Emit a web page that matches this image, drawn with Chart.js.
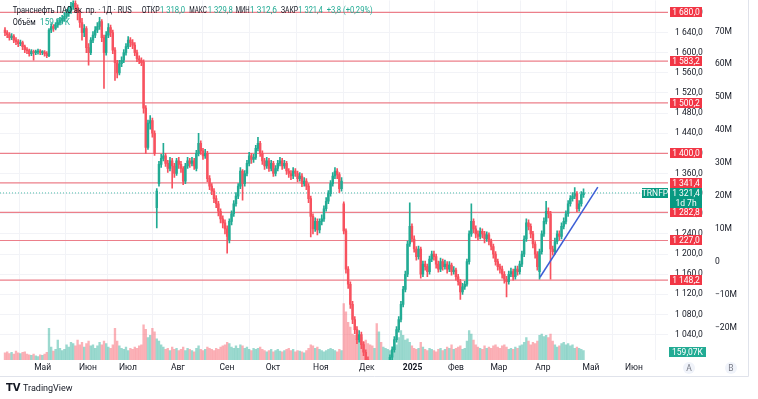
<!DOCTYPE html>
<html>
<head>
<meta charset="utf-8">
<script src="https://cdn.jsdelivr.net/npm/chart.js@4.4.1/dist/chart.umd.min.js"></script>
<style>
  html, body { margin: 0; padding: 0; background: #fff; }
  canvas { display: block; }
</style>
</head>
<body>
<canvas id="chart" width="758" height="399"></canvas>
<script>
// Daily candles, Apr 2024 - Apr 2025
const opens = [
  1645,1640,1636,1630,1633,1625,1622,1618,1620,1612,1606,1604,1598,1602,1600,1601,1603,1600,1601,1598,
  1594,1645,1652,1648,1655,1660,1664,1668,1672,1678,1684,1692,1698,1690,1680,1660,1640,1648,1610,1600,
  1625,1635,1645,1652,1662,1630,1600,1635,1650,1640,1605,1580,1560,1578,1585,1600,1612,1625,1620,1615,
  1600,1588,1585,1582,1490,1412,1460,1465,1440,1292,1340,1378,1390,1395,1380,1370,1385,1375,1360,1385,
  1378,1370,1345,1375,1385,1380,1385,1370,1400,1420,1405,1395,1400,1350,1335,1325,1310,1300,1285,1270,
  1262,1250,1228,1265,1280,1300,1315,1335,1365,1340,1360,1380,1395,1388,1392,1410,1420,1400,1385,1375,
  1385,1370,1380,1360,1370,1380,1385,1375,1380,1365,1360,1355,1365,1360,1350,1355,1340,1345,1335,1310,
  1275,1250,1265,1248,1265,1270,1290,1305,1320,1340,1355,1365,1358,1330,1300,1246,1170,1140,1100,1070,
  1050,1030,1040,1020,1005,990,975,960,945,955,940,950,945,960,965,980,995,1010,1030,1050,
  1070,1100,1130,1160,1220,1255,1230,1210,1195,1210,1160,1180,1175,1165,1190,1200,1195,1180,1170,1185,
  1175,1180,1170,1178,1165,1168,1155,1145,1125,1135,1140,1185,1240,1265,1250,1240,1235,1245,1240,1230,
  1238,1225,1215,1200,1185,1175,1170,1160,1150,1145,1160,1165,1155,1170,1165,1180,1200,1230,1262,1255,
  1240,1220,1200,1165,1205,1240,1265,1285,1280,1210,1205,1225,1240,1235,1255,1265,1280,1300,1310,1315,
  1320,1290,1300,1318
];
const highs = [
  1650,1644,1640,1638,1636,1630,1626,1625,1623,1615,1610,1607,1606,1605,1605,1607,1606,1604,1604,1602,
  1648,1658,1656,1660,1666,1670,1674,1680,1686,1692,1700,1710,1705,1695,1684,1668,1656,1652,1618,1630,
  1642,1652,1660,1670,1666,1635,1642,1658,1655,1645,1610,1585,1585,1592,1606,1618,1632,1630,1626,1620,
  1605,1594,1590,1586,1495,1466,1475,1470,1445,1330,1384,1398,1420,1400,1386,1392,1390,1380,1390,1392,
  1384,1374,1380,1392,1390,1392,1390,1406,1440,1425,1410,1408,1404,1356,1340,1330,1316,1305,1290,1276,
  1268,1256,1270,1286,1306,1322,1340,1372,1368,1366,1386,1402,1400,1398,1416,1432,1424,1405,1390,1392,
  1390,1386,1384,1376,1386,1392,1390,1386,1384,1370,1366,1372,1370,1365,1362,1360,1352,1350,1340,1315,
  1280,1272,1270,1270,1278,1296,1312,1326,1346,1362,1372,1370,1362,1352,1304,1250,1175,1145,1106,1076,
  1056,1048,1045,1026,1010,996,980,966,962,960,956,958,966,972,986,1000,1016,1036,1056,1076,
  1106,1136,1166,1226,1302,1260,1236,1215,1216,1214,1186,1186,1180,1196,1206,1206,1200,1186,1192,1190,
  1188,1185,1185,1182,1175,1172,1160,1150,1142,1146,1190,1246,1300,1270,1256,1246,1252,1250,1245,1244,
  1242,1230,1220,1205,1190,1180,1176,1165,1156,1166,1172,1170,1176,1176,1186,1206,1236,1270,1268,1260,
  1245,1225,1205,1210,1246,1272,1305,1292,1285,1216,1232,1246,1246,1262,1272,1286,1306,1316,1322,1332,
  1324,1306,1324,1329.8
];
const lows = [
  1634,1630,1625,1626,1620,1616,1612,1614,1606,1600,1598,1593,1594,1585,1596,1597,1596,1596,1593,1590,
  1592,1640,1642,1645,1650,1655,1658,1662,1668,1672,1678,1686,1682,1665,1650,1625,1632,1600,1575,1596,
  1620,1630,1640,1646,1622,1529,1595,1630,1632,1598,1545,1550,1556,1572,1580,1595,1608,1612,1608,1594,
  1582,1578,1574,1480,1400,1408,1448,1432,1396,1252,1335,1372,1385,1374,1362,1365,1331,1352,1356,1370,
  1362,1338,1340,1370,1372,1375,1368,1365,1395,1398,1388,1390,1344,1328,1318,1302,1292,1276,1262,1252,
  1240,1202,1222,1258,1275,1295,1310,1330,1307,1335,1355,1375,1380,1382,1388,1405,1394,1378,1368,1370,
  1364,1365,1354,1355,1365,1375,1368,1370,1358,1352,1348,1350,1354,1344,1345,1334,1335,1328,1302,1234,
  1240,1245,1238,1242,1258,1265,1285,1300,1315,1335,1350,1350,1322,1325,1240,1162,1132,1092,1062,1042,
  1022,1025,1012,998,982,966,952,936,938,930,932,936,940,954,960,975,990,1005,1025,1045,
  1065,1095,1125,1155,1215,1224,1204,1188,1190,1152,1155,1168,1155,1160,1185,1188,1172,1164,1165,1168,
  1170,1162,1165,1158,1160,1148,1138,1110,1120,1130,1136,1180,1235,1242,1232,1228,1230,1232,1222,1225,
  1218,1208,1192,1178,1168,1162,1152,1142,1115,1140,1155,1148,1150,1158,1160,1175,1195,1225,1248,1232,
  1212,1192,1168,1150,1200,1235,1260,1272,1150,1198,1200,1220,1228,1230,1250,1260,1275,1295,1305,1310,
  1284,1285,1295,1312.6
];
const closes = [
  1640,1636,1630,1633,1625,1622,1618,1620,1612,1606,1604,1598,1602,1600,1601,1603,1600,1601,1598,1594,
  1645,1652,1648,1655,1660,1664,1668,1672,1678,1684,1692,1698,1690,1680,1660,1640,1648,1610,1600,1625,
  1635,1645,1652,1662,1630,1600,1635,1650,1640,1605,1580,1560,1578,1585,1600,1612,1625,1620,1615,1600,
  1588,1585,1580,1490,1412,1460,1465,1440,1400,1325,1378,1390,1395,1380,1370,1385,1375,1360,1385,1378,
  1370,1345,1375,1385,1380,1385,1375,1400,1420,1405,1395,1400,1350,1335,1325,1310,1300,1285,1270,1262,
  1250,1235,1265,1280,1300,1315,1335,1365,1340,1360,1380,1395,1388,1392,1410,1420,1400,1385,1375,1385,
  1370,1380,1360,1370,1380,1385,1375,1380,1365,1360,1355,1365,1360,1350,1355,1340,1345,1335,1310,1275,
  1250,1265,1248,1265,1270,1290,1305,1320,1340,1355,1365,1358,1330,1345,1246,1170,1140,1100,1070,1050,
  1030,1040,1020,1005,990,975,960,945,955,940,950,945,960,965,980,995,1010,1030,1050,1070,
  1100,1130,1160,1220,1255,1230,1210,1195,1210,1160,1180,1175,1165,1190,1200,1195,1180,1170,1185,1175,
  1180,1170,1178,1165,1168,1155,1145,1125,1135,1140,1185,1240,1265,1250,1240,1235,1245,1240,1230,1238,
  1225,1215,1200,1185,1175,1170,1160,1150,1145,1160,1165,1155,1170,1165,1180,1200,1230,1262,1255,1240,
  1220,1200,1175,1205,1240,1265,1285,1280,1210,1205,1225,1240,1235,1255,1265,1280,1300,1310,1315,1320,
  1290,1300,1318,1321.4
];
// volume, thousands
const volumes = [
  120,140,110,130,100,150,120,110,130,140,100,90,80,100,70,60,90,80,100,130,
  540,220,150,180,340,200,160,180,260,220,300,280,240,340,260,300,220,280,320,240,
  260,200,240,300,260,320,280,220,200,260,540,320,240,200,180,220,160,200,180,220,
  200,240,260,600,520,380,420,540,480,360,320,260,220,180,200,160,220,180,200,160,
  180,220,160,200,180,160,140,200,240,180,160,180,220,200,180,160,200,180,220,240,
  260,300,280,220,200,240,200,260,240,200,220,180,160,200,180,200,220,180,160,140,
  160,180,140,160,180,150,140,160,180,200,160,180,140,160,150,140,120,160,200,260,
  240,200,220,180,160,140,160,180,200,180,160,140,180,160,960,820,640,560,440,420,
  360,420,380,300,340,280,260,240,200,620,480,300,220,200,180,160,180,220,260,380,
  500,420,340,360,300,240,200,180,200,300,220,180,160,200,180,160,140,180,200,160,
  180,220,200,260,180,200,220,240,180,200,320,500,440,340,260,220,200,180,240,200,
  220,200,240,260,220,200,240,260,220,180,200,180,220,200,240,260,300,380,320,260,
  300,280,320,420,440,400,420,380,440,320,260,220,240,280,300,260,280,240,260,200,
  220,200,180,159.07
];

// horizontal levels drawn on the chart
const levels = [1680, 1583.2, 1500.2, 1400, 1341.4, 1282.8, 1227, 1148.2];
const lastPrice = 1321.4;
// trend line (bar index, price)
const trendX = [243.2, 269.5];
const trendY = [1154, 1333];

// axis ticks
const monthTicks = [17.1, 37.7, 55.9, 78.6, 100.9, 121.8, 143.6, 164.5, 185.3, 205, 224.5, 244.5, 266.4, 285.9];
const monthLabels = ['Май', 'Июн', 'Июл', 'Авг', 'Сен', 'Окт', 'Ноя', 'Дек', '2025', 'Фев', 'Мар', 'Апр', 'Май', 'Июн'];
const priceTicks = [1040, 1080, 1120, 1160, 1200, 1240, 1280, 1320, 1360, 1400, 1440, 1480, 1520, 1560, 1600, 1640, 1680];
const volTicks = [-20, -10, 0, 10, 20, 30, 40, 50, 60, 70];

const upColor = '#22ab94';
const downColor = '#f7525f';
const levelColor = '#ec7f8a';
const textColor = '#131722';

Chart.defaults.font.family = 'Roboto, sans-serif';

const idx = closes.map((_, i) => i);
const isUp = i => closes[i] >= opens[i];

function fmtPrice(v) {
  const [int, dec] = v.toFixed(1).split('.');
  return int.replace(/\B(?=(\d{3})+$)/g, ' ') + ',' + dec;
}

const xMin = -2.27, xMax = 301.4;

const levelSets = levels.map(v => ({
  type: 'line',
  data: [{ x: xMin, y: v }, { x: xMax, y: v }],
  borderColor: levelColor,
  borderWidth: 1.2,
  pointRadius: 0,
  yAxisID: 'y',
  order: 5
}));

// badges, legend, footer
const overlay = {
  id: 'overlay',
  afterDraw(chart) {
    const { ctx, scales } = chart;
    const y = scales.y;
    ctx.save();

    // frame
    ctx.strokeStyle = '#e0e3eb';
    ctx.lineWidth = 1;
    ctx.beginPath();
    ctx.moveTo(0, 376.5); ctx.lineTo(748.5, 376.5);
    ctx.moveTo(748.5, 0); ctx.lineTo(748.5, 376.5);
    ctx.stroke();

    ctx.font = '8.5px Roboto, sans-serif';
    ctx.textBaseline = 'middle';
    ctx.textAlign = 'center';

    // red level badges
    levels.forEach(v => {
      const py = Math.round(y.getPixelForValue(v));
      ctx.fillStyle = '#f23645';
      ctx.fillRect(670, py - 5, 32, 10);
      ctx.fillStyle = '#fff';
      ctx.fillText(fmtPrice(v), 686, py + 0.5);
    });

    // last price badge
    const lp = Math.round(y.getPixelForValue(lastPrice));
    ctx.fillStyle = '#089981';
    ctx.fillRect(642, lp - 5, 26, 10);
    ctx.fillRect(670, lp - 5, 32, 20);
    ctx.fillStyle = '#fff';
    ctx.fillText('TRNFP', 655, lp + 0.5);
    ctx.fillText(fmtPrice(lastPrice), 686, lp + 0.5);
    ctx.fillText('1d 7h', 686, lp + 10.5);

    // last volume badge
    const vy = Math.round(scales.yv.getPixelForValue(volumes[volumes.length - 1]));
    ctx.fillStyle = '#22ab94';
    ctx.fillRect(669, vy - 4, 37, 10);
    ctx.fillStyle = '#fff';
    ctx.fillText('159,07K', 687.5, vy + 1.5);

    // A / B buttons
    [[689, 'A'], [731, 'B']].forEach(([bx, t]) => {
      ctx.fillStyle = '#f0f3fa';
      ctx.beginPath();
      ctx.arc(bx, 368, 6, 0, Math.PI * 2);
      ctx.fill();
      ctx.fillStyle = '#787b86';
      ctx.fillText(t, bx, 368.5);
    });

    // legend (x, max width)
    ctx.textAlign = 'left';
    ctx.font = '9px Roboto, sans-serif';
    const put = (t, c, x, w, ty = 11) => { ctx.fillStyle = c; ctx.fillText(t, x, ty, w); };
    put('Транснефть ПАО ак. пр. · 1Д · RUS', textColor, 12.7, 119);
    put('ОТКР', textColor, 141.7, 18);
    put('1 318,0', upColor, 160, 25);
    put('МАКС', textColor, 189.3, 17.5);
    put('1 329,8', upColor, 207.7, 25);
    put('МИН', textColor, 235.7, 14);
    put('1 312,6', upColor, 250, 27);
    put('ЗАКР', textColor, 281, 17);
    put('1 321,4', upColor, 298.3, 24.5);
    put('+3,8 (+0,29%)', upColor, 326.7, 46);
    put('Объём', textColor, 12.7, 23, 23);
    put('159,07K', upColor, 40, 30, 23);

    // footer logo
    ctx.fillStyle = textColor;
    ctx.font = 'bold 10px "DejaVu Sans", sans-serif';
    ctx.fillText('TV', 6, 388);
    ctx.font = '9px Roboto, sans-serif';
    ctx.fillText('TradingView', 23, 388.5);
    ctx.restore();
  }
};

new Chart(document.getElementById('chart'), {
  type: 'bar',
  data: {
    datasets: [
      {
        // volume
        data: idx.map(i => ({ x: i, y: volumes[i] })),
        backgroundColor: idx.map(i => isUp(i) ? 'rgba(34,171,148,0.45)' : 'rgba(247,82,95,0.45)'),
        barThickness: 1.7,
        grouped: false,
        yAxisID: 'yv',
        clip: 0,
        order: 10
      },
      ...levelSets,
      {
        type: 'line',
        data: [{ x: xMin, y: lastPrice }, { x: xMax, y: lastPrice }],
        borderColor: 'rgba(34,171,148,0.8)',
        borderWidth: 1,
        borderDash: [1, 2],
        pointRadius: 0,
        yAxisID: 'y',
        order: 4
      },
      {
        // wicks
        data: idx.map(i => ({ x: i, y: [lows[i], highs[i]] })),
        backgroundColor: idx.map(i => isUp(i) ? upColor : downColor),
        barThickness: 1,
        grouped: false,
        yAxisID: 'y',
        clip: 0,
        order: 2
      },
      {
        // bodies
        data: idx.map(i => ({ x: i, y: [opens[i], closes[i]] })),
        backgroundColor: idx.map(i => isUp(i) ? upColor : downColor),
        barThickness: 1.8,
        minBarLength: 1,
        grouped: false,
        yAxisID: 'y',
        clip: 0,
        order: 1
      },
      {
        type: 'line',
        data: trendX.map((v, i) => ({ x: v, y: trendY[i] })),
        borderColor: '#3c5fd6',
        borderWidth: 1.5,
        pointRadius: 0,
        yAxisID: 'y',
        order: 0
      }
    ]
  },
  options: {
    responsive: false,
    animation: false,
    devicePixelRatio: 1,
    layout: { autoPadding: false, padding: { top: 0, left: 0, right: 10, bottom: 23 } },
    plugins: { legend: { display: false }, tooltip: { enabled: false } },
    scales: {
      x: {
        type: 'linear',
        min: xMin,
        max: xMax,
        offset: false,
        border: { display: false },
        grid: { color: '#f2f3f7', drawTicks: false },
        afterBuildTicks: s => { s.ticks = monthTicks.map(v => ({ value: v })); },
        afterFit: s => { s.height = 16; },
        ticks: {
          autoSkip: false,
          maxRotation: 0,
          padding: 3,
          color: textColor,
          font: ctx => ({ size: 8.5, weight: monthLabels[ctx.index] === '2025' ? 'bold' : 'normal' }),
          callback: (v, i) => monthLabels[i]
        }
      },
      y: {
        position: 'right',
        weight: 0,
        min: 989.6,
        max: 1703.8,
        border: { display: false },
        grid: { color: '#f2f3f7', drawTicks: true, tickLength: 7, tickColor: 'rgba(0,0,0,0)' },
        afterBuildTicks: s => { s.ticks = priceTicks.map(v => ({ value: v })); },
        afterFit: s => { s.width = 37; },
        ticks: {
          autoSkip: false,
          padding: 0,
          color: textColor,
          font: { size: 8.5, lineHeight: 0.1 },
          callback: v => fmtPrice(v)
        }
      },
      yvl: {
        position: 'right',
        weight: 1,
        display: true,
        min: -29.7,
        max: 79.4,
        border: { display: false },
        grid: { display: false, drawTicks: true, tickLength: 10 },
        afterBuildTicks: s => { s.ticks = volTicks.map(v => ({ value: v })); },
        afterFit: s => { s.width = 43; },
        ticks: {
          autoSkip: false,
          padding: 0,
          color: textColor,
          font: { size: 8.5, lineHeight: 0.1 },
          callback: v => v === 0 ? '0' : (v < 0 ? '−' : '') + Math.abs(v) + 'M'
        }
      },
      yv: {
        display: false,
        min: 0,
        max: 6120
      }
    }
  },
  plugins: [overlay]
});
</script>
</body>
</html>
